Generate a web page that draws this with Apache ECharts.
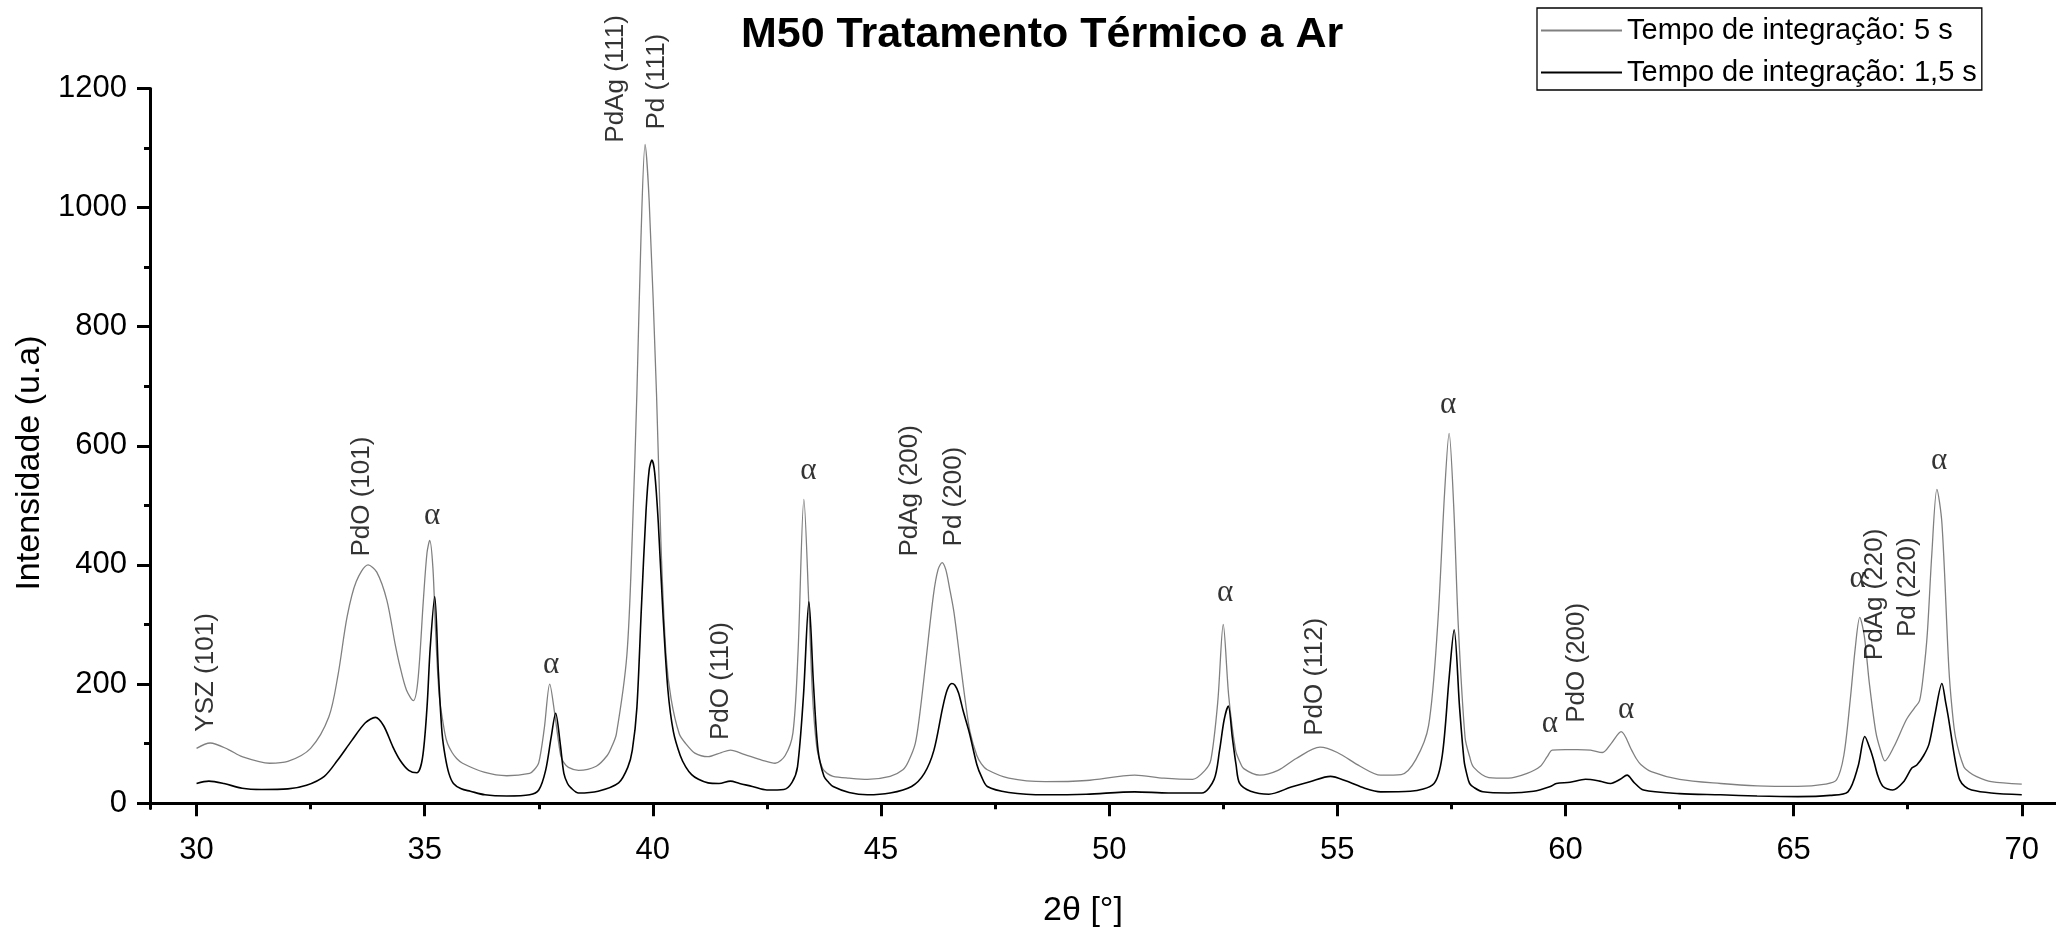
<!DOCTYPE html>
<html>
<head>
<meta charset="utf-8">
<script src="https://cdn.jsdelivr.net/npm/echarts@6/dist/echarts.min.js"></script>
<style>
  html, body { margin: 0; padding: 0; background: #ffffff; }
  #chart { width: 2056px; height: 931px; }
</style>
</head>
<body>
<div id="chart"></div>
<script>
// XRD scans of sample M50 after heat treatment in air: [2θ (°), intensity (a.u.)]
const scan5s = [
  [30.0, 92], [30.3, 101], [30.7, 90], [31.0, 78], [31.6, 67], [32.0, 70], [32.5, 92], [32.9, 145],
  [33.1, 215], [33.3, 313], [33.5, 372], [33.76, 400], [33.95, 388], [34.17, 341], [34.35, 268],
  [34.46, 229], [34.6, 190], [34.75, 172], [34.85, 205], [34.97, 340], [35.05, 420], [35.11, 441],
  [35.18, 395], [35.24, 286], [35.32, 180], [35.44, 118], [35.5, 100], [35.6, 85], [35.7, 75],
  [35.83, 67], [36.3, 52], [36.8, 46], [37.3, 50], [37.4, 56], [37.5, 68], [37.62, 125],
  [37.74, 200], [37.85, 150], [37.98, 80], [38.05, 68], [38.15, 60], [38.37, 55], [38.76, 62],
  [39.0, 80], [39.1, 95], [39.2, 116], [39.43, 248], [39.55, 450], [39.65, 688], [39.74, 950],
  [39.83, 1106], [39.92, 1010], [40.08, 688], [40.18, 430], [40.29, 248], [40.4, 175], [40.58, 116],
  [40.72, 100], [40.92, 84], [41.21, 78], [41.5, 85], [41.7, 89], [42.0, 82], [42.4, 72],
  [42.68, 67], [42.9, 80], [43.07, 118], [43.18, 250], [43.31, 510], [43.42, 330], [43.5, 180],
  [43.6, 90], [43.72, 58], [43.82, 50], [43.95, 45], [44.3, 42], [44.7, 40], [45.2, 45],
  [45.48, 56], [45.6, 70], [45.75, 100], [45.85, 150], [45.97, 229], [46.15, 350], [46.25, 392],
  [46.34, 404], [46.42, 392], [46.5, 362], [46.6, 320], [46.75, 229], [46.85, 170], [46.95, 120],
  [47.1, 80], [47.2, 66], [47.33, 56], [47.8, 42], [48.6, 36], [49.5, 38], [50.56, 47],
  [51.2, 42], [51.83, 40], [52.1, 55], [52.23, 73], [52.38, 170], [52.5, 300], [52.62, 180],
  [52.77, 89], [52.86, 70], [52.95, 58], [53.3, 47], [53.7, 55], [54.1, 75], [54.62, 94],
  [55.0, 85], [55.5, 62], [55.95, 47], [56.4, 48], [56.72, 73], [57.0, 130], [57.2, 300],
  [57.35, 520], [57.45, 621], [57.55, 500], [57.65, 300], [57.8, 110], [57.9, 78], [57.99, 60],
  [58.32, 43], [58.75, 42], [59.16, 50], [59.45, 62], [59.6, 78], [59.71, 89], [60.0, 90],
  [60.26, 90], [60.55, 89], [60.81, 85], [61.0, 100], [61.22, 120], [61.45, 89], [61.55, 75],
  [61.65, 65], [61.88, 53], [62.5, 40], [63.4, 33], [64.2, 29], [65.09, 28], [65.7, 32],
  [65.94, 39], [66.1, 80], [66.24, 173], [66.35, 260], [66.45, 312], [66.55, 280], [66.66, 201],
  [66.8, 120], [66.9, 90], [67.0, 71], [67.2, 95], [67.47, 140], [67.65, 160], [67.76, 172],
  [67.85, 220], [67.93, 285], [68.03, 420], [68.14, 527], [68.25, 470], [68.4, 229], [68.47, 160],
  [68.55, 110], [68.73, 61], [68.85, 52], [69.0, 45], [69.33, 36], [70.0, 32]
];

const scan15s = [
  [30.0, 33], [30.27, 37], [30.6, 33], [31.0, 25], [31.43, 23], [32.0, 24], [32.41, 30], [32.8, 45],
  [33.09, 72], [33.4, 105], [33.7, 135], [33.92, 144], [34.1, 130], [34.3, 95], [34.46, 72],
  [34.65, 55], [34.83, 51], [34.95, 75], [35.05, 160], [35.12, 260], [35.22, 347], [35.3, 220],
  [35.38, 118], [35.45, 78], [35.53, 50], [35.63, 33], [35.8, 24], [36.0, 20], [36.32, 14],
  [36.8, 12], [37.3, 14], [37.5, 22], [37.65, 55], [37.77, 110], [37.87, 151], [37.97, 100],
  [38.05, 50], [38.13, 33], [38.2, 26], [38.37, 17], [38.8, 20], [39.25, 34], [39.45, 60],
  [39.55, 89], [39.65, 160], [39.75, 330], [39.85, 490], [39.92, 560], [39.98, 576], [40.04, 555],
  [40.12, 470], [40.22, 320], [40.33, 190], [40.45, 120], [40.6, 80], [40.72, 61], [40.85, 48],
  [41.0, 40], [41.21, 34], [41.45, 33], [41.7, 37], [41.9, 33], [42.18, 28], [42.5, 22],
  [42.87, 23], [43.05, 35], [43.17, 61], [43.3, 180], [43.42, 338], [43.52, 200], [43.62, 89],
  [43.75, 45], [43.85, 35], [43.95, 28], [44.3, 18], [44.7, 14], [45.2, 17], [45.67, 28],
  [45.95, 50], [46.16, 89], [46.35, 160], [46.45, 190], [46.55, 201], [46.62, 198], [46.7, 185],
  [46.8, 155], [46.94, 117], [47.1, 65], [47.2, 45], [47.33, 28], [47.8, 18], [48.6, 14],
  [49.5, 15], [50.56, 19], [51.3, 17], [52.03, 17], [52.3, 40], [52.42, 89], [52.52, 140],
  [52.61, 163], [52.7, 110], [52.78, 65], [52.86, 33], [53.1, 20], [53.5, 15], [53.99, 27],
  [54.4, 36], [54.85, 45], [55.2, 37], [55.6, 25], [55.95, 19], [56.6, 20], [57.12, 33],
  [57.3, 80], [57.45, 210], [57.56, 291], [57.68, 160], [57.78, 70], [57.84, 48], [57.9, 33],
  [58.0, 26], [58.19, 19], [58.75, 17], [59.3, 20], [59.67, 28], [59.8, 33], [60.1, 35],
  [60.44, 40], [60.75, 37], [60.99, 33], [61.2, 40], [61.35, 47], [61.5, 35], [61.71, 22],
  [62.5, 16], [63.4, 14], [64.2, 12], [65.09, 11], [65.8, 13], [66.19, 19], [66.41, 61],
  [66.56, 112], [66.68, 90], [66.75, 73], [66.85, 45], [66.96, 28], [67.17, 22], [67.4, 35],
  [67.59, 59], [67.7, 64], [67.85, 80], [67.97, 100], [68.1, 150], [68.25, 201], [68.33, 170],
  [68.4, 140], [68.5, 90], [68.57, 60], [68.64, 39], [68.75, 28], [68.9, 22], [69.33, 17],
  [70.0, 14]
];

const seriesNames = ['Tempo de integração: 5 s', 'Tempo de integração: 1,5 s'];

// Phase / reflection labels, anchored at [2θ, intensity] where each vertical label begins
const reflectionLabels = [
  [30.2, 120, 'YSZ (101)'], [33.63, 414, 'PdO (101)'], [39.19, 1109, 'PdAg (111)'],
  [40.09, 1131, 'Pd (111)'], [41.5, 106, 'PdO (110)'], [45.64, 414, 'PdAg (200)'],
  [46.6, 431, 'Pd (200)'], [54.5, 113, 'PdO (112)'], [60.24, 135, 'PdO (200)'],
  [66.79, 240, 'PdAg (220)'], [67.5, 279, 'Pd (220)']
];

// α-phase markers, centred at [2θ, intensity]
const alphaMarks = [
  [35.16, 475], [37.77, 225], [43.41, 551], [52.54, 347], [57.43, 662],
  [59.66, 126], [61.33, 150], [66.4, 370], [68.19, 568]
];

// Axis ticks
const xMajorTicks = [30, 35, 40, 45, 50, 55, 60, 65, 70];
const xMinorTicks = [32.5, 37.5, 42.5, 47.5, 52.5, 57.5, 62.5, 67.5];
const yMajorTicks = [0, 200, 400, 600, 800, 1000, 1200];
const yMinorTicks = [100, 300, 500, 700, 900, 1100];

const SANS = "'Liberation Sans', Arial, sans-serif";
const SERIF = "'Liberation Serif', 'Times New Roman', serif";
const X_MIN = 28.98, X_MAX = 70.75, Y_MIN = -9, Y_MAX = 1200;

const chart = echarts.init(document.getElementById('chart'), null, { renderer: 'canvas' });

const axisLineStyle = { color: '#000', width: 3 };
const plainNumber = (v) => String(v);

chart.setOption({
  backgroundColor: '#ffffff',
  animation: false,
  title: {
    text: 'M50 Tratamento Térmico a Ar',
    left: 741,
    top: 14,
    padding: 0,
    textStyle: { fontFamily: SANS, fontWeight: 'bold', fontSize: 43, color: '#000' }
  },
  legend: {
    data: seriesNames,
    orient: 'vertical',
    left: 1537,
    top: 8,
    padding: [8, 5, 3, 4],
    itemGap: 13,
    itemWidth: 81,
    itemHeight: 2,
    icon: 'rect',
    borderColor: '#000',
    borderWidth: 1.3,
    backgroundColor: '#fff',
    textStyle: { fontFamily: SANS, fontSize: 29, color: '#000' }
  },
  grid: { left: 150, right: 0, top: 88.5, bottom: 122.5, containLabel: false },
  xAxis: [
    {
      type: 'value', position: 'bottom', min: X_MIN, max: X_MAX,
      axisLine: { show: true, lineStyle: axisLineStyle },
      axisTick: { show: true, customValues: xMajorTicks, length: 13, lineStyle: { color: '#000', width: 3 } },
      axisLabel: { show: true, customValues: xMajorTicks, formatter: plainNumber, margin: 26, fontFamily: SANS, fontSize: 31, color: '#000' },
      splitLine: { show: false }
    },
    {
      type: 'value', position: 'bottom', min: X_MIN, max: X_MAX,
      axisLine: { show: false },
      axisTick: { show: true, customValues: xMinorTicks, length: 6, lineStyle: { color: '#000', width: 3 } },
      axisLabel: { show: false },
      splitLine: { show: false }
    }
  ],
  yAxis: [
    {
      type: 'value', position: 'left', min: Y_MIN, max: Y_MAX,
      axisLine: { show: true, lineStyle: axisLineStyle },
      axisTick: { show: true, customValues: yMajorTicks, length: 13, lineStyle: { color: '#000', width: 3 } },
      axisLabel: { show: true, customValues: yMajorTicks, formatter: plainNumber, margin: 23, fontFamily: SANS, fontSize: 31, color: '#000' },
      splitLine: { show: false }
    },
    {
      type: 'value', position: 'left', min: Y_MIN, max: Y_MAX,
      axisLine: { show: false },
      axisTick: { show: true, customValues: yMinorTicks, length: 6, lineStyle: { color: '#000', width: 3 } },
      axisLabel: { show: false },
      splitLine: { show: false }
    }
  ],
  graphic: [
    {
      type: 'text', x: 30, y: 463, rotation: Math.PI / 2,
      style: {
        text: 'Intensidade (u.a)', fontFamily: SANS, fontSize: 34, fill: '#000',
        align: 'center', verticalAlign: 'middle', textAlign: 'center', textVerticalAlign: 'middle'
      }
    },
    {
      type: 'text', x: 1083, y: 911,
      style: {
        text: '2θ [°]', fontFamily: SANS, fontSize: 34, fill: '#000',
        align: 'center', verticalAlign: 'middle', textAlign: 'center', textVerticalAlign: 'middle'
      }
    }
  ],
  series: [
    {
      name: seriesNames[0], type: 'line', xAxisIndex: 0, yAxisIndex: 0,
      data: scan5s, symbol: 'none', smooth: 0.3,
      lineStyle: { color: '#808080', width: 1.3 }, itemStyle: { color: '#808080' }, z: 2
    },
    {
      name: seriesNames[1], type: 'line', xAxisIndex: 0, yAxisIndex: 0,
      data: scan15s, symbol: 'none', smooth: 0.3,
      lineStyle: { color: '#000000', width: 1.6 }, itemStyle: { color: '#000000' }, z: 3
    },
    {
      name: 'reflections', type: 'scatter', xAxisIndex: 0, yAxisIndex: 0,
      data: reflectionLabels, symbolSize: 0, silent: true, z: 4,
      label: {
        show: true, position: [0, 0], rotate: 90, align: 'left', verticalAlign: 'middle',
        formatter: (p) => p.data[2], fontFamily: SANS, fontSize: 26, color: '#000'
      }
    },
    {
      name: 'alpha', type: 'scatter', xAxisIndex: 0, yAxisIndex: 0,
      data: alphaMarks, symbolSize: 0, silent: true, z: 4,
      label: {
        show: true, position: [0, 0], align: 'center', verticalAlign: 'middle', offset: [0, -4],
        formatter: () => 'α', fontFamily: SERIF, fontSize: 31, color: '#000'
      }
    }
  ]
});
</script>
</body>
</html>
